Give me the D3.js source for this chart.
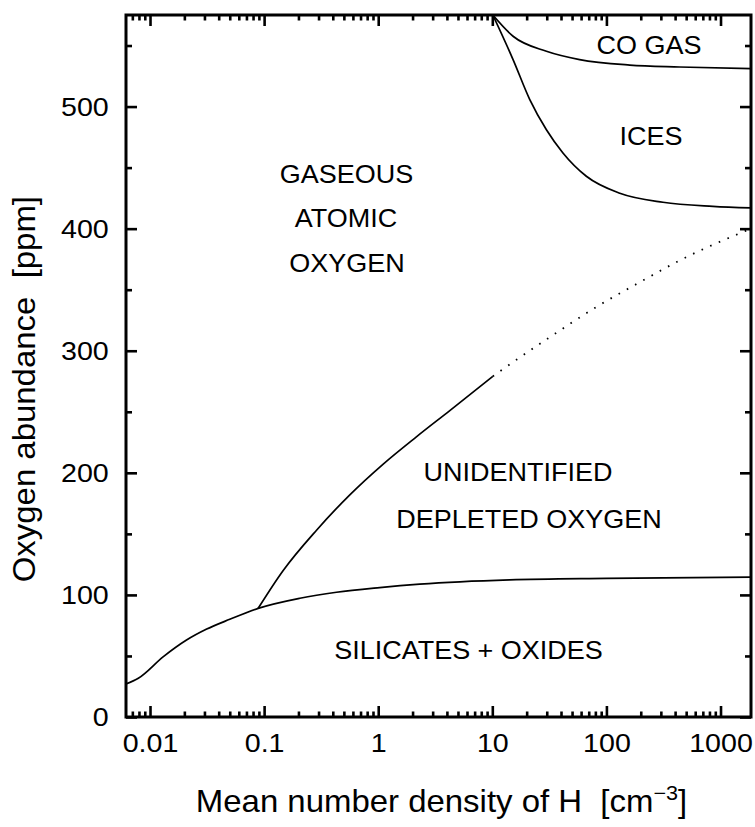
<!DOCTYPE html>
<html><head><meta charset="utf-8">
<script src="https://cdn.jsdelivr.net/npm/d3@7"></script>
<style>
html,body{margin:0;padding:0;background:#fff;}
svg{display:block;font-family:"Liberation Sans",Arial,sans-serif;}
</style></head>
<body><svg id="c" width="755" height="827"></svg>
<script>
// ---- data ----
const xMajorTicks = [0.01, 0.1, 1, 10, 100, 1000];
const xTickLabels = ["0.01", "0.1", "1", "10", "100", "1000"];
const yMajorTicks = [0, 100, 200, 300, 400, 500];
const yMinorTicks = [50, 150, 250, 350, 450, 550];

const silicatesX = [0.00616, 0.0079, 0.0131, 0.0209, 0.0314, 0.050, 0.0887, 0.206, 0.431, 1.03, 2.31, 14.2, 100, 1850];
const silicatesY = [27, 31.7, 49.4, 63, 72, 80, 89, 97.3, 102.2, 106, 108.8, 112.3, 113.5, 114.5];

const unidentX = [0.0887, 0.147, 0.288, 0.564, 1.10, 2.16, 4.24, 10.1];
const unidentY = [89, 120, 153, 182, 207, 229.5, 251, 279];

const unidentDotX = [10.1, 12.0, 31.8, 78.9, 202, 423, 1850];
const unidentDotY = [279, 284, 311, 335, 356.8, 373.2, 400];

const icesX = [10.1, 15.2, 21.3, 29.8, 41.6, 66.7, 131, 313, 857, 1850];
const icesY = [575, 538.5, 505.7, 481, 462, 442.9, 429, 421.6, 418.3, 417];

const coX = [10.1, 15.2, 29.8, 58.2, 160, 437, 1850];
const coY = [575, 557.6, 545.3, 538.5, 534, 532.4, 531];

const regionLabels = ["CO GAS", "ICES", "GASEOUS", "ATOMIC", "OXYGEN", "UNIDENTIFIED", "DEPLETED OXYGEN", "SILICATES + OXIDES"];
const regionX = [649, 651, 346.5, 346, 347, 518, 529, 468.5];
const regionY = [54, 145, 183, 227, 272, 481, 528, 659];

const xTitle = "Mean number density of H\u00A0\u00A0[cm";
const xTitleSup = "\u22123";
const yTitle = "Oxygen abundance\u00A0\u00A0[ppm]";

// ---- layout ----
const L = 126, R = 751, T = 15, B = 717;
const svg = d3.select("#c");
const x = d3.scaleLog().domain([0.00616, 1850]).range([L, R]);
const y = d3.scaleLinear().domain([0, 575]).range([B, T]);

const xMinor = [];
for (let e = -3; e <= 3; e++) for (let m = 2; m <= 9; m++) {
  const v = m * Math.pow(10, e);
  if (v > 0.00616 && v < 1850) xMinor.push(v);
}

svg.append("defs").append("clipPath").attr("id", "clip")
  .append("rect").attr("x", L).attr("y", T).attr("width", R - L).attr("height", B - T);

const STX = 1.08;
function styleAxis(g, labels) {
  g.select(".domain").remove();
  g.selectAll(".tick line").attr("stroke", "#000").attr("stroke-width", 2.6);
  g.selectAll(".tick text").attr("fill", "#000")
    .style("font-size", "26.5px")
    .attr("transform", `scale(${STX},1)`);
  if (!labels) g.selectAll(".tick text").remove();
}

// bottom
svg.append("g").attr("transform", `translate(0,${B})`)
  .call(d3.axisBottom(x).tickValues(xMajorTicks).tickFormat((d, i) => xTickLabels[i]).tickSizeInner(-11).tickSizeOuter(0).tickPadding(16))
  .call(g => styleAxis(g, true));
svg.append("g").attr("transform", `translate(0,${B})`)
  .call(d3.axisBottom(x).tickValues(xMinor).tickFormat("").tickSizeInner(-5.5).tickSizeOuter(0))
  .call(g => styleAxis(g, false));
// top
svg.append("g").attr("transform", `translate(0,${T})`)
  .call(d3.axisTop(x).tickValues(xMajorTicks).tickFormat("").tickSizeInner(-11).tickSizeOuter(0))
  .call(g => styleAxis(g, false));
svg.append("g").attr("transform", `translate(0,${T})`)
  .call(d3.axisTop(x).tickValues(xMinor).tickFormat("").tickSizeInner(-5.5).tickSizeOuter(0))
  .call(g => styleAxis(g, false));
// left
svg.append("g").attr("transform", `translate(${L},0)`)
  .call(d3.axisLeft(y).tickValues(yMajorTicks).tickFormat(d3.format("d")).tickSizeInner(-11).tickSizeOuter(0).tickPadding(16))
  .call(g => styleAxis(g, true));
svg.append("g").attr("transform", `translate(${L},0)`)
  .call(d3.axisLeft(y).tickValues(yMinorTicks).tickFormat("").tickSizeInner(-6).tickSizeOuter(0))
  .call(g => styleAxis(g, false));
// right
svg.append("g").attr("transform", `translate(${R},0)`)
  .call(d3.axisRight(y).tickValues(yMajorTicks).tickFormat("").tickSizeInner(-11).tickSizeOuter(0))
  .call(g => styleAxis(g, false));
svg.append("g").attr("transform", `translate(${R},0)`)
  .call(d3.axisRight(y).tickValues(yMinorTicks).tickFormat("").tickSizeInner(-6).tickSizeOuter(0))
  .call(g => styleAxis(g, false));

// frame
svg.append("rect").attr("x", L).attr("y", T).attr("width", R - L).attr("height", B - T)
  .attr("fill", "none").attr("stroke", "#000").attr("stroke-width", 3);

// curves
const line = d3.line().x(d => x(d[0])).y(d => y(d[1])).curve(d3.curveMonotoneX);
const zip = (a, b) => a.map((v, i) => [v, b[i]]);
const plot = svg.append("g").attr("clip-path", "url(#clip)");
function drawCurve(xs, ys, dash) {
  const p = plot.append("path").datum(zip(xs, ys)).attr("d", line)
    .attr("fill", "none").attr("stroke", "#000").attr("stroke-width", dash ? 1.8 : 1.7);
  if (dash) p.attr("stroke-dasharray", dash).attr("stroke-linecap", "butt");
}
drawCurve(silicatesX, silicatesY);
drawCurve(unidentX, unidentY);
drawCurve(unidentDotX, unidentDotY, "1.6,7.8");
drawCurve(icesX, icesY);
drawCurve(coX, coY);

// region labels
regionLabels.forEach((t, i) => {
  svg.append("text").attr("transform", `translate(${regionX[i]},${regionY[i]}) scale(${STX},1)`)
    .attr("text-anchor", "middle").style("font-size", "25px").attr("fill", "#000").text(t);
});

// axis titles
const xt = svg.append("text").attr("transform", `translate(${(L + R) / 2 + 3},812) scale(${STX},1)`)
  .attr("text-anchor", "middle").style("font-size", "30.5px").attr("fill", "#000");
xt.append("tspan").text(xTitle);
xt.append("tspan").attr("dy", -12).style("font-size", "20px").text(xTitleSup);
xt.append("tspan").attr("dy", 12).text("]");

svg.append("text").attr("transform", `translate(35,196) rotate(-90) scale(${STX},1)`)
  .attr("text-anchor", "end").style("font-size", "30.5px").attr("fill", "#000").text(yTitle);
</script></body></html>
